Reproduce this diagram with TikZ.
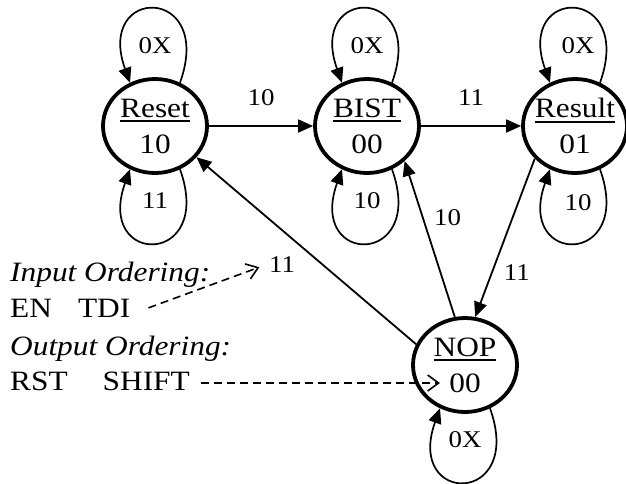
\documentclass[tikz,border=0pt]{standalone}
\usepackage{fontspec}
\setmainfont{Liberation Serif}[FakeStretch=1.12]
\usetikzlibrary{arrows.meta,shapes.geometric}
\newcommand\stul[1]{\leavevmode\setbox0\hbox{#1}\rlap{\rule[-5pt]{\wd0}{1.9pt}}\box0}
\newcommand\mytoploop[1]{\draw[selfloop] (#1.60) .. controls ([shift={(60pt,141pt)}]#1.center) and ([shift={(-60pt,141pt)}]#1.center) .. (#1.120);}
\newcommand\mybotloop[1]{\draw[selfloop] (#1.-60) .. controls ([shift={(60pt,-141pt)}]#1.center) and ([shift={(-60pt,-141pt)}]#1.center) .. (#1.-120);}
\begin{document}
\begin{tikzpicture}[x=1pt,y=1pt,
 state/.style={ellipse, draw, line width=3.8pt, minimum width=104pt, minimum height=94pt, inner sep=0pt},
 stext/.style={align=center, font=\fontsize{28}{36}\selectfont, inner sep=0pt},
 edge/.style={line width=1.8pt, -{Triangle[length=15pt,width=13pt]}},
 selfloop/.style={line width=1.7pt, -{Triangle[length=15pt,width=13pt]}},
 lbl/.style={font=\fontsize{24}{28}\selectfont, inner sep=1pt},
 side/.style={font=\fontsize{28}{34}\selectfont, inner sep=0pt, anchor=base west},
 hint/.style={line width=1.6pt, dash pattern=on 8pt off 5pt, -{Straight Barb[length=11pt,width=16pt]}}]
\useasboundingbox (0,0) rectangle (626,-483);

% states
\node[state, label={[stext,name=resetT]center:{\stul{Reset}\\10}}] (reset) at (155,-126) {};
\node[state, label={[stext,name=bistT]center:{\stul{BIST}\\00}}] (bist) at (367,-126) {};
\node[state, label={[stext,name=resultT]center:{\stul{Result}\\01}}] (result) at (575,-126) {};
\node[state, label={[stext,name=nopT]center:{\stul{NOP}\\00}}] (nop) at (465,-365) {};

% self loops
\mytoploop{reset}
\mybotloop{reset}
\mytoploop{bist}
\mybotloop{bist}
\mytoploop{result}
\mybotloop{result}
\mybotloop{nop}

\node[lbl] (lresetA) at ([yshift=80pt]reset.center) {0X};
\node[lbl] (lresetB) at ([yshift=-75pt]reset.center) {11};
\node[lbl] (lbistA) at ([yshift=80pt]bist.center) {0X};
\node[lbl] (lbistB) at ([yshift=-75pt]bist.center) {10};
\node[lbl] (lresultA) at ([xshift=3pt,yshift=80pt]result.center) {0X};
\node[lbl] (lresultB) at ([xshift=3pt,yshift=-77pt]result.center) {10};
\node[lbl] (lnopB) at ([yshift=-75pt]nop.center) {0X};

% transitions
\draw[edge] (reset) -- (bist) node[lbl, midway, yshift=28pt] (lrb) {10};
\draw[edge] (bist) -- (result) node[lbl, midway, yshift=28pt] (lbr) {11};
\draw[edge] (result.219) -- (nop.78) node[lbl, pos=0.72, xshift=25pt] (lrn) {11};
\draw[edge] (nop.102) -- (bist.-43) node[lbl, pos=0.64, xshift=25pt] (lnb) {10};
\draw[edge] (nop.157) -- (reset.-37) node[lbl, pos=0.61, yshift=-34pt] (lnr) {11};

% legend
\node[side] (tin) at (10,-281) {\textit{Input Ordering:}};
\node[side] (ten) at (10,-317) {EN\hspace{26pt}TDI};
\node[side] (tout) at (10,-355) {\textit{Output Ordering:}};
\node[side] (trst) at (10,-390) {RST\hspace{35pt}SHIFT};

\coordinate (nopin) at ([shift={(-25pt,-18pt)}]nop.center);
\draw[hint] ([xshift=18pt]ten.east) -- ([shift={(-8pt,-3pt)}]lnr.west);
\draw[hint] ([xshift=11pt]trst.east |- nopin) -- (nopin);
\end{tikzpicture}
\end{document}
